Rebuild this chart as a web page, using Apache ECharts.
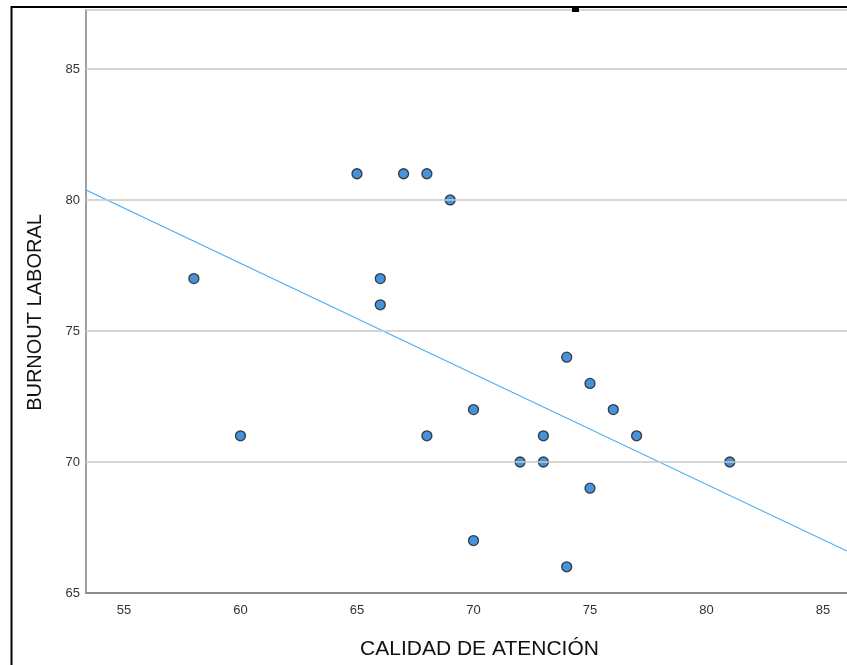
<!DOCTYPE html>
<html>
<head>
<meta charset="utf-8">
<script src="https://cdn.jsdelivr.net/npm/echarts@6/dist/echarts.min.js"></script>
<style>
html,body{margin:0;padding:0;background:#fff;}
#c{width:847px;height:665px;}
</style>
</head>
<body>
<div id="c"></div>
<script>
// Data
var calidadAtencion = [65, 67, 68, 69, 58, 66, 66, 60, 68, 70, 72, 73, 73, 74, 75, 76, 77, 81, 75, 70, 74];
var burnoutLaboral  = [81, 81, 81, 80, 77, 77, 76, 71, 71, 72, 70, 70, 71, 74, 73, 72, 71, 70, 69, 67, 66];
var xTicks = [55, 60, 65, 70, 75, 80, 85];
var yTicks = [65, 70, 75, 80, 85];
var xTitle = 'CALIDAD DE ATENCIÓN';
var yTitle = 'BURNOUT LABORAL';
var xRange = [53.37, 86.03];
var yRange = [65, 87.25];
// fit line (at the plot edges)
var fitX = [53.37, 86.03];
var fitY = [80.38, 66.6];

var points = calidadAtencion.map(function (x, i) { return [x, burnoutLaboral[i]]; });
var fitLine = fitX.map(function (x, i) { return [x, fitY[i]]; });

var chart = echarts.init(document.getElementById('c'), null, {renderer: 'canvas'});
var font = '"Liberation Sans", Arial, sans-serif';
chart.setOption({
  animation: false,
  backgroundColor: '#fff',
  grid: {left: 86, right: 0, top: 10, bottom: 72, containLabel: false, show: false},
  xAxis: {
    type: 'value', min: xRange[0], max: xRange[1],
    name: xTitle, nameLocation: 'middle', nameGap: 46,
    nameTextStyle: {fontFamily: font, fontSize: 21, color: '#111', padding: [0, 0, 0, 26]},
    axisLine: {show: true, onZero: false, lineStyle: {color: '#8c8c8c', width: 2}},
    axisTick: {show: false},
    splitLine: {show: false},
    axisLabel: {
      fontFamily: font, fontSize: 13, color: '#333', margin: 11,
      customValues: xTicks, formatter: function (v) { return String(v); }
    }
  },
  yAxis: {
    type: 'value', min: yRange[0], max: yRange[1],
    name: yTitle, nameLocation: 'middle', nameGap: 41, nameRotate: 90,
    nameTextStyle: {fontFamily: font, fontSize: 20, color: '#111', padding: [0, 22, 0, 0]},
    axisLine: {show: true, onZero: false, lineStyle: {color: '#a0a0a0', width: 2}},
    axisTick: {show: false},
    splitLine: {show: false},
    axisLabel: {
      fontFamily: font, fontSize: 13, color: '#333', margin: 6,
      customValues: yTicks, formatter: function (v) { return String(v); }
    }
  },
  series: [
    {
      type: 'line', data: yTicks.slice(1).map(function (v) { return [xRange[0], v]; }),
      showSymbol: false, silent: true, lineStyle: {width: 0, opacity: 0},
      markLine: {
        silent: true, symbol: 'none', label: {show: false},
        lineStyle: {color: '#c8c8c8', width: 1.5, type: 'solid'},
        data: yTicks.slice(1).map(function (v) { return {yAxis: v}; }).concat([{yAxis: yRange[1]}])
      },
      z: 1
    },
    {
      type: 'line', data: fitLine, showSymbol: false, silent: true,
      lineStyle: {color: '#4aaaf0', width: 1.2}, z: 2
    },
    {
      type: 'scatter', data: points, symbol: 'circle', symbolSize: 10,
      itemStyle: {color: '#1878d0', borderColor: '#1a1a1a', borderWidth: 1.3},
      z: 3
    }
  ],
  graphic: [
    {type: 'line', shape: {x1: 11.5, y1: 7, x2: 847, y2: 7}, style: {stroke: '#000', lineWidth: 2}, z: 100},
    {type: 'line', shape: {x1: 11.5, y1: 6, x2: 11.5, y2: 665}, style: {stroke: '#000', lineWidth: 2}, z: 100},
    {type: 'rect', shape: {x: 572, y: 6, width: 7, height: 6}, style: {fill: '#000'}, z: 100}
  ]
});
</script>
</body>
</html>
